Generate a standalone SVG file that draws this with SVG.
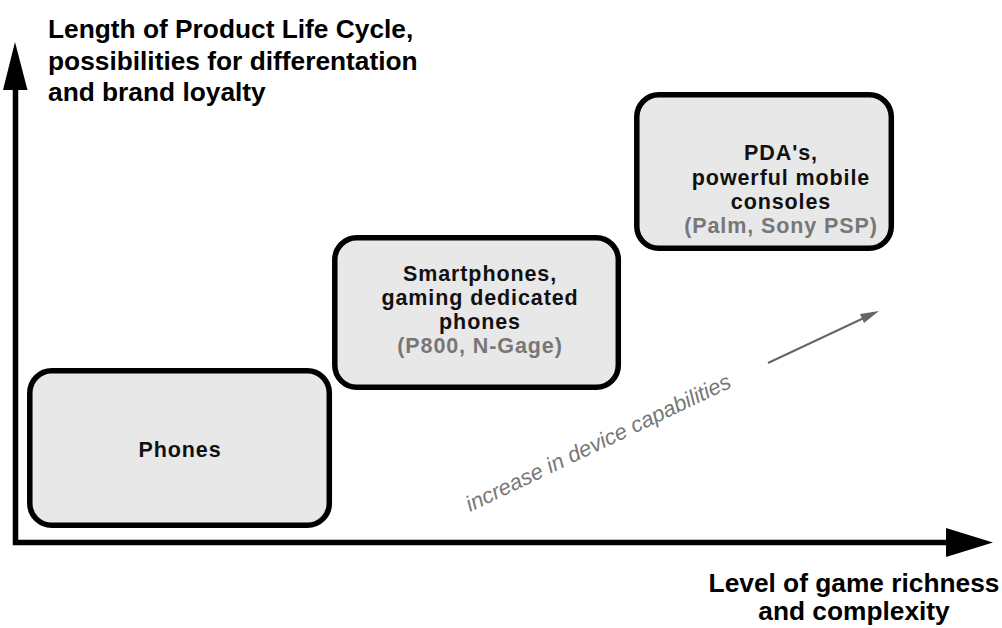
<svg xmlns="http://www.w3.org/2000/svg" width="1002" height="628" viewBox="0 0 1002 628">
  <style>
    .axis { fill: none; stroke: #000; stroke-width: 5.5; stroke-linejoin: miter; }
    .head { fill: #000; }
    .title { font-family: "Liberation Sans", Arial, sans-serif; font-weight: bold; font-size: 26.3px; fill: #000; }
    .box { fill: #e8e8e8; stroke: #000; stroke-width: 5.5; }
    .label { font-family: "Liberation Sans", Arial, sans-serif; font-weight: bold; font-size: 21.5px; letter-spacing: 0.9px; fill: #111; text-anchor: middle; }
    .sub { fill: #777; }
    .trend { stroke: #666; stroke-width: 2; fill: none; }
    .trend-text { font-family: "Liberation Sans", Arial, sans-serif; font-style: italic; font-size: 22px; fill: #777; }
  </style>

  <!-- axes -->
  <g id="axes">
    <path class="axis" d="M15.5,88 V542.5 H950"/>
    <polygon class="head" points="15,42 27.5,90 3,90"/>
    <polygon class="head" points="946,528 993,542.5 946,557"/>
  </g>

  <!-- axis titles -->
  <g id="y-title">
    <text class="title" x="48" y="38">Length of Product Life Cycle,</text>
    <text class="title" x="48" y="70">possibilities for differentation</text>
    <text class="title" x="48" y="101">and brand loyalty</text>
  </g>
  <g id="x-title">
    <text class="title" x="854" y="592" text-anchor="middle">Level of game richness</text>
    <text class="title" x="854" y="620" text-anchor="middle">and complexity</text>
  </g>

  <!-- device categories -->
  <g id="phones">
    <rect class="box" x="29.8" y="370.8" width="299.5" height="154.5" rx="22"/>
    <text class="label" x="180" y="457">Phones</text>
  </g>

  <g id="smartphones">
    <rect class="box" x="334.8" y="237.8" width="283.5" height="149.5" rx="22"/>
    <text class="label" x="480" y="281">Smartphones,</text>
    <text class="label" x="480" y="305">gaming dedicated</text>
    <text class="label" x="480" y="329">phones</text>
    <text class="label sub" x="480" y="353">(P800, N-Gage)</text>
  </g>

  <g id="pda">
    <rect class="box" x="636.8" y="94.8" width="254.5" height="153.5" rx="22"/>
    <text class="label" x="781" y="160">PDA's,</text>
    <text class="label" x="781" y="185">powerful mobile</text>
    <text class="label" x="781" y="209">consoles</text>
    <text class="label sub" x="781" y="233">(Palm, Sony PSP)</text>
  </g>

  <!-- capability trend -->
  <g id="connectors">
    <line class="trend" x1="768" y1="363" x2="866" y2="317"/>
    <polygon points="879,311 864,323 860,314" fill="#666"/>
  </g>
  <g id="trend-label">
    <text class="trend-text" transform="translate(470,512) rotate(-25.5)">increase in device  capabilities</text>
  </g>
</svg>
